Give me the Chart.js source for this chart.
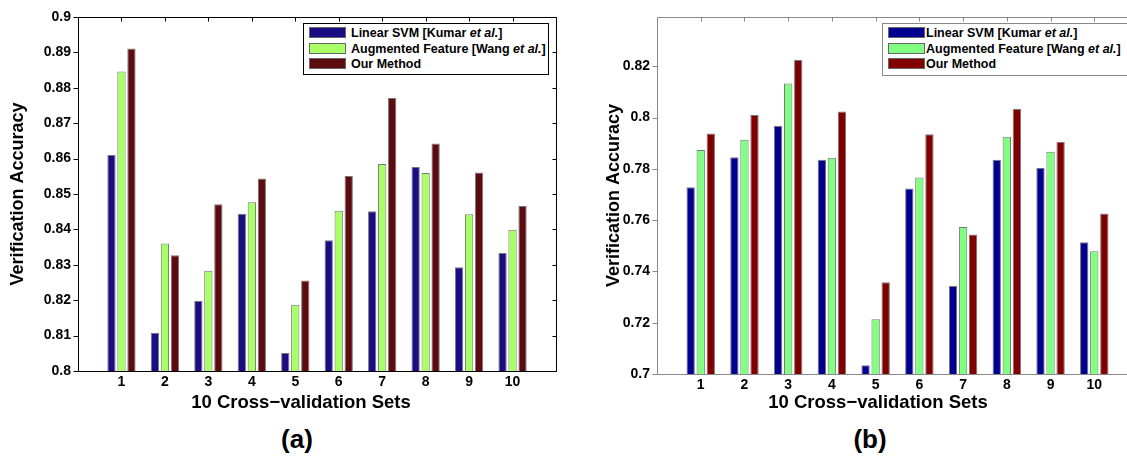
<!DOCTYPE html>
<html><head><meta charset="utf-8">
<script src="https://cdn.jsdelivr.net/npm/chart.js@4"></script>
<style>
html,body{margin:0;padding:0;background:#fff;overflow:hidden;width:1127px;height:456px;}
body{position:relative;font-family:"Liberation Sans",Arial,sans-serif;font-weight:bold;color:#000;}
.wrap{position:absolute;top:0;overflow:hidden;height:456px;}
.legend{position:absolute;background:#fff;font-size:12.5px;line-height:15.5px;box-sizing:border-box;padding-top:2px;white-space:nowrap;}
.legend .sw{display:inline-block;width:37px;height:11px;box-sizing:border-box;border:1px solid #666;vertical-align:-1px;}
.xt{position:absolute;font-size:18.5px;white-space:nowrap;transform:translate(-50%,-50%);}
.pl{position:absolute;font-size:26px;white-space:nowrap;transform:translate(-50%,-50%);}
</style></head><body>
<div class="wrap" style="left:0;width:560px"><canvas id="ca" width="560" height="420"></canvas></div>
<div class="wrap" style="left:560px;width:567px"><canvas id="cb" width="600" height="420"></canvas></div>
<div class="legend" id="lega" style="left:303px;top:23px;width:246px;height:52px;border:1px solid #000;"></div>
<div class="legend" id="legb" style="left:882px;top:23px;width:300px;height:53px;border:1px solid #888;"></div>
<div class="xt" style="left:301px;top:402px">10 Cross−validation Sets</div>
<div class="xt" style="left:878px;top:402px">10 Cross−validation Sets</div>
<div class="pl" style="left:297px;top:439px">(a)</div>
<div class="pl" style="left:870px;top:439px">(b)</div>
<script>
// ---- data ----
const categories = ['1','2','3','4','5','6','7','8','9','10'];
const seriesNames = ['Linear SVM [Kumar et al.]','Augmented Feature [Wang et al.]','Our Method'];
const yTicksA = [0.8,0.81,0.82,0.83,0.84,0.85,0.86,0.87,0.88,0.89,0.9];
const yTicksB = [0.7,0.72,0.74,0.76,0.78,0.8,0.82];
const linearA = [0.861,0.8108,0.8198,0.8444,0.8051,0.8369,0.8451,0.8576,0.8293,0.8333];
const augA    = [0.8846,0.836,0.8283,0.8477,0.8187,0.8453,0.8585,0.8559,0.8443,0.8399];
const oursA   = [0.8911,0.8327,0.8471,0.8544,0.8256,0.8551,0.8771,0.8643,0.8561,0.8466];
const linearB = [0.7728,0.7845,0.7968,0.7835,0.7034,0.7723,0.7343,0.7835,0.7804,0.7514];
const augB    = [0.7873,0.7913,0.8133,0.7843,0.7213,0.7766,0.7573,0.7925,0.7867,0.7479];
const oursB   = [0.7938,0.801,0.8224,0.8024,0.7358,0.7935,0.7544,0.8033,0.7906,0.7626];
// ---- style ----
const colorsA = ['#1a0c82','#a8ff66','#5c0c0f'];
const colorsB = ['#000090','#80ff80','#800000'];
const FONT = '"Liberation Sans", Arial, sans-serif';

const labels = [''].concat(categories, ['']);
const pad = arr => [null].concat(arr, [null]);
const fmt = v => String(+(+v).toFixed(2));

const frame = {
  id: 'frame',
  beforeDatasetsDraw(chart, args, o) {
    const {ctx, chartArea: a, scales: {x}} = chart;
    ctx.save(); ctx.strokeStyle = o.color; ctx.lineWidth = 1; ctx.beginPath();
    categories.forEach((c, i) => {
      const px = Math.round(x.getPixelForValue(i + 1)) + 0.5;
      ctx.moveTo(px, a.bottom); ctx.lineTo(px, a.bottom - 4);
    });
    ctx.stroke(); ctx.restore();
  },
  afterDatasetsDraw(chart, args, o) {
    const {ctx, chartArea: a, scales: {x, y}} = chart;
    ctx.save(); ctx.strokeStyle = o.color; ctx.lineWidth = 1; ctx.beginPath();
    const L = Math.round(a.left) + 0.5, R = Math.round(a.right) + 0.5, T = Math.round(a.top) + 0.5, B = Math.round(a.bottom) + 0.5;
    ctx.moveTo(L, T); ctx.lineTo(R, T); ctx.lineTo(R, B); ctx.lineTo(L, B); ctx.closePath();
    o.yTicks.forEach(v => {
      const py = Math.round(y.getPixelForValue(v)) + 0.5;
      ctx.moveTo(L - 5, py); ctx.lineTo(L, py);
      ctx.moveTo(R - 4, py); ctx.lineTo(R, py);
    });
    categories.forEach((c, i) => {
      const px = Math.round(x.getPixelForValue(i + 1)) + 0.5;
      ctx.moveTo(px, T); ctx.lineTo(px, T + 4);
    });
    ctx.stroke(); ctx.restore();
  }
};

function makeChart(id, series, colors, yTicks, ymin, ymax, opt) {
  return new Chart(document.getElementById(id), {
    type: 'bar',
    data: {
      labels,
      datasets: series.map((s, i) => ({
        label: seriesNames[i], data: pad(s), backgroundColor: colors[i],
        borderColor: '#777', borderWidth: 1, borderSkipped: false,
        categoryPercentage: 0.69, barPercentage: 0.83
      }))
    },
    options: {
      responsive: false, animation: false, devicePixelRatio: 1,
      layout: {padding: {left: 0, right: opt.padRight, top: 17, bottom: 0}},
      plugins: {legend: {display: false}, tooltip: {enabled: false}, frame: {color: opt.axisColor, yTicks}},
      scales: {
        x: {
          offset: false,
          grid: {display: false, drawTicks: false}, border: {display: false},
          ticks: {autoSkip: false, maxRotation: 0, padding: 3, color: '#000', font: {family: FONT, size: 14, weight: 'bold'}},
          afterFit: s => { s.height = opt.xHeight; }
        },
        y: {
          min: ymin, max: ymax,
          grid: {display: false, drawTicks: false}, border: {display: false},
          afterBuildTicks: s => { s.ticks = yTicks.map(v => ({value: v})); },
          ticks: {padding: 7, color: '#000', callback: fmt, font: {family: FONT, size: 14, weight: 'bold'}},
          title: {display: true, text: 'Verification Accuracy', color: '#000', padding: {top: opt.titlePad, bottom: 0},
                  font: {family: FONT, size: 18, weight: 'bold'}},
          afterFit: s => { s.width = opt.yWidth; }
        }
      }
    },
    plugins: [frame]
  });
}

makeChart('ca', [linearA, augA, oursA], colorsA, yTicksA, 0.8, 0.9,
  {padRight: 4, xHeight: 49, yWidth: 78, titlePad: 7, axisColor: '#000'});
makeChart('cb', [linearB, augB, oursB], colorsB, yTicksB, 0.7, 0.8392,
  {padRight: 22, xHeight: 46, yWidth: 97, titlePad: 43, axisColor: '#888'});

function legendHTML(colors) {
  return seriesNames.map((n, i) =>
    '<div><span class="sw" style="background:' + colors[i] + ';margin-left:5px;margin-right:MRpx"></span>' +
    n.replace('et al.', '<i>et al.</i>') + '</div>').join('');
}
document.getElementById('lega').innerHTML = legendHTML(colorsA).replace(/MR/g, '5');
document.getElementById('legb').innerHTML = legendHTML(colorsB).replace(/MR/g, '1');
</script>
</body></html>
